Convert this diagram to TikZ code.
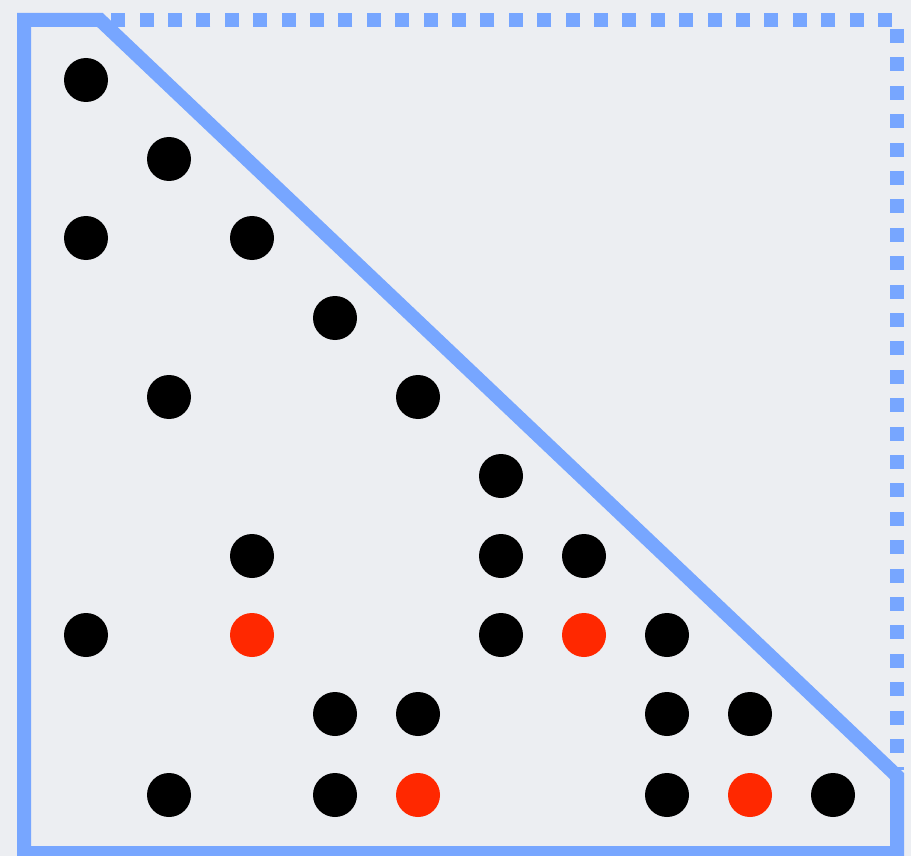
\documentclass[tikz,border=0pt]{standalone}
\definecolor{bg}{RGB}{236,238,242}
\definecolor{edgeblue}{RGB}{119,166,255}
\definecolor{dotred}{RGB}{255,40,0}
\begin{document}
\begin{tikzpicture}[x=1pt,y=-1pt,
  blackdot/.style={circle,fill=black,inner sep=0pt,minimum size=44pt},
  reddot/.style={circle,fill=dotred,inner sep=0pt,minimum size=44pt},
  solidedge/.style={draw=edgeblue,line width=14pt,line join=miter},
  dottededge/.style={draw=edgeblue,line width=14pt,line cap=butt,dash pattern=on 14pt off 14.4pt}]
\fill[bg] (0,0) rectangle (911,856);
\useasboundingbox (0,0) rectangle (911,856);
% outline
\draw[solidedge] (100,20) -- (24,20) -- (24,853) -- (897,853) -- (897,776) -- cycle;
\draw[dottededge] (892,20) -- (100,20);
\draw[dottededge] (897,29) -- (897,770);
% dots: columns x = 86 + 83(k-1), rows y = 80 + 79.4(r-1)
\node[blackdot] (r1c1) at (86,80) {};
\node[blackdot] (r2c2) at (169,159) {};
\node[blackdot] (r3c1) at (86,238) {};
\node[blackdot] (r3c3) at (252,238) {};
\node[blackdot] (r4c4) at (335,318) {};
\node[blackdot] (r5c2) at (169,397) {};
\node[blackdot] (r5c5) at (418,397) {};
\node[blackdot] (r6c6) at (501,476) {};
\node[blackdot] (r7c3) at (252,556) {};
\node[blackdot] (r7c6) at (501,556) {};
\node[blackdot] (r7c7) at (584,556) {};
\node[blackdot] (r8c1) at (86,635) {};
\node[reddot] (r8c3) at (252,635) {};
\node[blackdot] (r8c6) at (501,635) {};
\node[reddot] (r8c7) at (584,635) {};
\node[blackdot] (r8c8) at (667,635) {};
\node[blackdot] (r9c4) at (335,714) {};
\node[blackdot] (r9c5) at (418,714) {};
\node[blackdot] (r9c8) at (667,714) {};
\node[blackdot] (r9c9) at (750,714) {};
\node[blackdot] (r10c2) at (169,795) {};
\node[blackdot] (r10c4) at (335,795) {};
\node[reddot] (r10c5) at (418,795) {};
\node[blackdot] (r10c8) at (667,795) {};
\node[reddot] (r10c9) at (750,795) {};
\node[blackdot] (r10c10) at (833,795) {};
\end{tikzpicture}
\end{document}
